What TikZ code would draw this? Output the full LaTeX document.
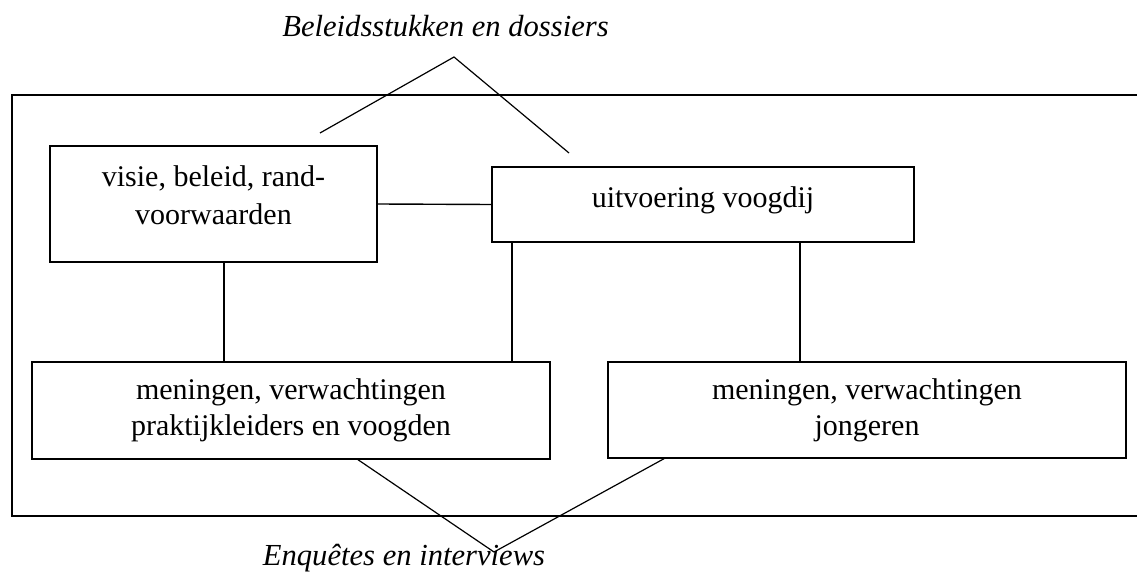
\documentclass[tikz,border=0pt]{standalone}
\usepackage{fontspec}
\setmainfont{Liberation Serif}
\usetikzlibrary{calc}

\begin{document}
\begin{tikzpicture}[x=1pt, y=-1pt, line width=1.4pt,
		vak/.style={draw, align=center, inner sep=0pt, font=\fontsize{30}{36}\selectfont},
		bron/.style={anchor=base, inner sep=0pt, font=\itshape\fontsize{30.6}{36}\selectfont}]
			%%%%% START %%%%%
			\useasboundingbox (0,0) rectangle (1137,572);
			
			\draw (1137,95) -- (12,95) -- (12,516) -- (1137,516);
			
			\node[vak, font=\fontsize{30}{38}\selectfont, minimum width=327pt, minimum height=116pt, text depth=18pt] (visie) at (213.5,204) {visie, beleid, rand-\\voorwaarden};
			\node[vak, minimum width=422pt, minimum height=75pt, text depth=15pt] (uitvoering) at (703,204.5) {uitvoering voogdij};
			\node[vak, minimum width=518pt, minimum height=97pt] (praktijk) at (291,410.5) {meningen, verwachtingen\\praktijkleiders en voogden};
			\node[vak, minimum width=518pt, minimum height=96pt] (jongeren) at (867,410) {meningen, verwachtingen\\jongeren};
			
			\draw (visie.east) -- (uitvoering.west);
			\draw ([xshift=10.5pt]visie.south) -- ([xshift=10.5pt]visie.south |- praktijk.north);
			\draw ([xshift=-191pt]uitvoering.south) -- ([xshift=-191pt]uitvoering.south |- praktijk.north);
			\draw ([xshift=97pt]uitvoering.south) -- ([xshift=97pt]uitvoering.south |- jongeren.north);
			
			\node[bron] (beleidsstukken) at (445.5,37) {Beleidsstukken en dossiers};
			\coordinate (boven) at (454,57);
			\coordinate (links) at (320,133);
			\coordinate (rechts) at (569,153);
			\draw[line width=1.2pt] (links) -- (boven) -- (rechts);
			
			\node[bron] (enquetes) at (404,565) {Enquêtes en interviews};
			\coordinate (onder) at (494,552);
			\draw[line width=1.2pt] ([xshift=67pt]praktijk.south) -- (onder) -- ([xshift=-203pt]jongeren.south);
			
			%%%%% END %%%%%
\end{tikzpicture}
\end{document}
